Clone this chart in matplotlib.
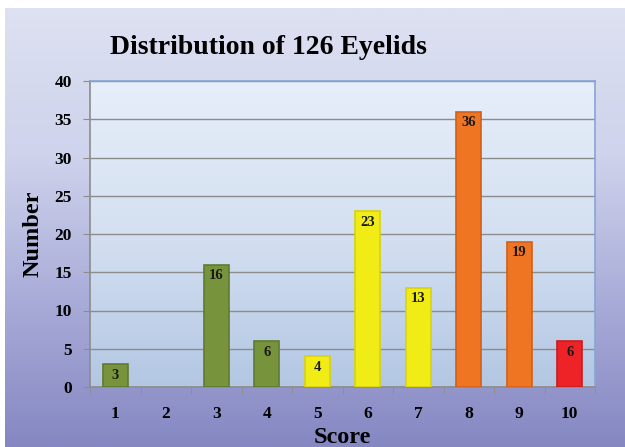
"""Distribution of 126 eyelids - bar chart"""

import numpy as np
import matplotlib.pyplot as plt
from matplotlib.colors import LinearSegmentedColormap

# data
scores = ['1', '2', '3', '4', '5', '6', '7', '8', '9', '10']
counts = [3, 0, 16, 6, 4, 23, 13, 36, 19, 6]
bar_colors = ['#77933c', '#77933c', '#77933c', '#77933c', '#f2ec16',
              '#f2ec16', '#f2ec16', '#f07522', '#f07522', '#ee2327']
edge_colors = ['#5f7a2e', '#5f7a2e', '#5f7a2e', '#5f7a2e', '#d8d210',
               '#d8d210', '#d8d210', '#d0601a', '#d0601a', '#c81c20']
y_ticks = [0, 5, 10, 15, 20, 25, 30, 35, 40]

plt.rcParams['font.family'] = ['Liberation Serif', 'DejaVu Serif']
plt.rcParams['font.weight'] = 'bold'

fig = plt.figure(figsize=(6.25, 4.47), dpi=100)
fig.patch.set_facecolor('white')

# figure background gradient (light lavender at top to blue-violet at bottom)
bg = fig.add_axes([5 / 625, 0, 1 - 5 / 625, 1 - 8 / 447])
bg_cmap = LinearSegmentedColormap.from_list('bg', ['#dde1f1', '#cfd3ec', '#a9acd8', '#8587c2'])
grad = np.linspace(0, 1, 256).reshape(-1, 1)
bg.imshow(grad, aspect='auto', cmap=bg_cmap, extent=[0, 1, 0, 1], origin='upper')
bg.axis('off')

ax = fig.add_axes([90 / 625, 60 / 447, 505 / 625, 306 / 447])
x = np.arange(len(scores))

# plot area gradient
pa_cmap = LinearSegmentedColormap.from_list('pa', ['#e6eef9', '#d4e0f1', '#b3c7e3'])
ax.imshow(grad, aspect='auto', cmap=pa_cmap, extent=[-0.5, len(scores) - 0.5, 0, 40],
          origin='upper', zorder=0)

# empty categories get no outline
edges = [e if c > 0 else 'none' for e, c in zip(edge_colors, counts)]
ax.bar(x, counts, width=0.5, color=bar_colors, edgecolor=edges, linewidth=1.2, zorder=3)

for xi, c in zip(x, counts):
    if c > 0:
        ax.text(xi, c - 0.6, str(c), ha='center', va='top', fontsize=10.5,
                fontweight='bold', color='#1a1a1a', zorder=4)

ax.set_xlim(-0.5, len(scores) - 0.5)
ax.set_ylim(0, 40)
ax.set_yticks(y_ticks)
ax.set_yticklabels([str(t) for t in y_ticks], fontsize=12.5, fontweight='bold')
ax.set_xticks(x)
ax.set_xticklabels(scores, fontsize=12.5, fontweight='bold')
ax.set_xticks(np.arange(-0.5, len(scores), 1), minor=True)
ax.tick_params(axis='x', which='major', length=0, pad=14)
ax.tick_params(axis='x', which='minor', length=5, color='#8c8c8c', direction='out')
ax.tick_params(axis='y', length=5, color='#8c8c8c', pad=8)
ax.grid(axis='y', color='#8c8c8c', linewidth=1, zorder=1)
ax.set_axisbelow(True)

for side in ['top', 'right']:
    ax.spines[side].set_color('#86a5d6')
ax.spines['left'].set_color('#8c8c8c')
ax.spines['bottom'].set_color('#8c8c8c')
for s in ax.spines.values():
    s.set_linewidth(1.2)

ax.set_xlabel('Score', fontsize=17.5, fontweight='bold', labelpad=3)
ax.set_ylabel('Number', fontsize=17.5, fontweight='bold', labelpad=8)

fig.text(0.43, 1 - 47 / 447, 'Distribution of 126 Eyelids', ha='center', va='center',
         fontsize=20, fontweight='bold')

fig.savefig('out.png', dpi=100)
